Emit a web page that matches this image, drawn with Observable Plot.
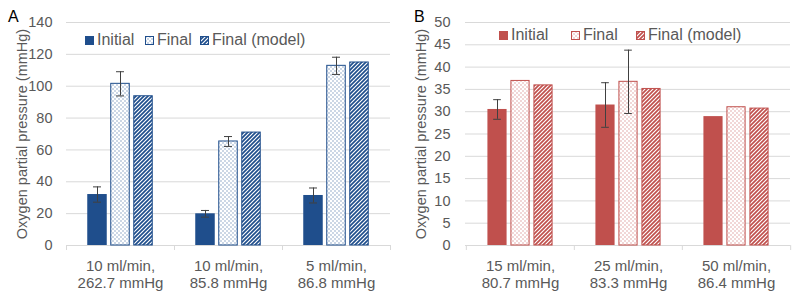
<!DOCTYPE html>
<html><head><meta charset="utf-8">
<script src="https://cdn.jsdelivr.net/npm/d3@7"></script>
<script src="https://cdn.jsdelivr.net/npm/@observablehq/plot@0.6"></script>
<style>
body{margin:0;background:#fff;}
#wrap{position:relative;width:800px;height:298px;font-family:"Liberation Sans",Arial,sans-serif;overflow:hidden;}
.panel{position:absolute;top:0;}
.letter{position:absolute;font-size:16px;font-weight:400;line-height:1;color:#000;}
.lg{position:absolute;display:flex;align-items:center;font-size:16px;line-height:1;color:#595959;white-space:nowrap;}
.lg svg{margin-right:3px;}
</style></head>
<body>
<div id="wrap"></div>
<script>
// ---- Data ----
const seriesNames = ["Initial", "Final", "Final (model)"];
const yLabel = "Oxygen partial pressure (mmHg)";

// Panel A
const catsA = ["10 ml/min,\n262.7 mmHg", "10 ml/min,\n85.8 mmHg", "5 ml/min,\n86.8 mmHg"];
const initialA = [32.0, 19.9, 31.4];
const initialErrA = [4.8, 2.1, 4.7];
const finalA = [101.5, 65.3, 112.8];
const finalErrA = [7.6, 3.1, 5.4];
const modelA = [93.7, 70.9, 114.9];
const yTicksA = [0, 20, 40, 60, 80, 100, 120, 140];

// Panel B
const catsB = ["15 ml/min,\n80.7 mmHg", "25 ml/min,\n83.3 mmHg", "50 ml/min,\n86.4 mmHg"];
const initialB = [30.5, 31.5, 28.9];
const initialErrB = [2.2, 5.0, 0];
const finalB = [36.9, 36.7, 31.0];
const finalErrB = [0, 7.1, 0];
const modelB = [35.9, 35.1, 30.7];
const yTicksB = [0, 5, 10, 15, 20, 25, 30, 35, 40, 45, 50];

const colorA = "#1f4e8c";
const colorB = "#c0504d";

// ---- Patterns ----
function defsSvg() {
  const svg = d3.create("svg").attr("width", 0).attr("height", 0).style("position", "absolute");
  const defs = svg.append("defs");
  for (const [key, col] of [["A", colorA], ["B", colorB]]) {
    const d = defs.append("pattern").attr("id", "dots" + key).attr("patternUnits", "userSpaceOnUse").attr("width", 4).attr("height", 4);
    d.append("rect").attr("width", 4).attr("height", 4).attr("fill", "#fff");
    d.append("rect").attr("x", 0.5).attr("y", 0.5).attr("width", 1).attr("height", 1).attr("fill", col).attr("opacity", 0.9);
    d.append("rect").attr("x", 2.5).attr("y", 2.5).attr("width", 1).attr("height", 1).attr("fill", col).attr("opacity", 0.9);
    const h = defs.append("pattern").attr("id", "hatch" + key).attr("patternUnits", "userSpaceOnUse").attr("width", 4).attr("height", 4);
    h.append("rect").attr("width", 4).attr("height", 4).attr("fill", "#fff");
    h.append("path").attr("d", "M-1,1 l2,-2 M0,4 l4,-4 M3,5 l2,-2").attr("stroke", col).attr("stroke-width", 1.7);
  }
  return svg.node();
}

function panel(cats, initial, initialErr, final, finalErr, model, yTicks, color, key, ml) {
  const W = 400, H = 298, mt = 22, mb = 53, mr = 10;
  const bw = (W - ml - mr) / cats.length;
  const barW = 19.5, gap = 3.5, off = barW + gap;
  const ins = (k, w = barW) => {
    const c = bw / 2 + k * off;
    return {insetLeft: c - w / 2, insetRight: bw - c - w / 2};
  };
  const rows = cats.map((c, i) => ({cat: c, initial: initial[i], ie: initialErr[i], final: final[i], fe: finalErr[i], model: model[i]}));
  const errI = rows.filter(d => d.ie > 0), errF = rows.filter(d => d.fe > 0);
  const ec = "#404040", capW = 8;
  return Plot.plot({
    width: W, height: H, marginLeft: ml, marginRight: mr, marginTop: mt, marginBottom: mb,
    style: {fontFamily: "'Liberation Sans', Arial, sans-serif", color: "#595959", background: "transparent", overflow: "visible"},
    x: {domain: cats, padding: 0, label: null},
    y: {domain: [0, yTicks[yTicks.length - 1]], label: null},
    marks: [
      Plot.gridY(yTicks.slice(1), {stroke: "#d9d9d9", strokeOpacity: 1}),
      Plot.axisY(yTicks, {tickSize: 0, tickPadding: ml === 66 ? 14 : 15, fontSize: 14.5, label: yLabel, labelAnchor: "center", labelArrow: "none", labelOffset: 50, fill: "#595959"}),
      Plot.axisX({tickSize: 0, tickPadding: 13, fontSize: 15, lineHeight: 1.15, fill: "#595959", label: null}),
      Plot.ruleY([0], {stroke: "#d9d9d9"}),
      Plot.ruleX(cats, {x: d => d, dx: -bw / 2, y1: 0, y2: 0, insetBottom: -5, stroke: "#d9d9d9"}),
      Plot.ruleX(cats.slice(-1), {x: d => d, dx: bw / 2, y1: 0, y2: 0, insetBottom: -5, stroke: "#d9d9d9"}),
      Plot.barY(rows, {x: "cat", y: "initial", fill: color, ...ins(-1)}),
      Plot.barY(rows, {x: "cat", y: "final", fill: `url(#dots${key})`, stroke: color, strokeWidth: 1, ...ins(0, barW - 1)}),
      Plot.barY(rows, {x: "cat", y: "model", fill: `url(#hatch${key})`, stroke: color, strokeWidth: 1, ...ins(1, barW - 1)}),
      Plot.ruleX(errI, {x: "cat", y1: d => d.initial - d.ie, y2: d => d.initial + d.ie, dx: -off, stroke: ec}),
      Plot.tickY(errI, {x: "cat", y: d => d.initial + d.ie, stroke: ec, ...ins(-1, capW)}),
      Plot.tickY(errI, {x: "cat", y: d => d.initial - d.ie, stroke: ec, ...ins(-1, capW)}),
      Plot.ruleX(errF, {x: "cat", y1: d => d.final - d.fe, y2: d => d.final + d.fe, stroke: ec}),
      Plot.tickY(errF, {x: "cat", y: d => d.final + d.fe, stroke: ec, ...ins(0, capW)}),
      Plot.tickY(errF, {x: "cat", y: d => d.final - d.fe, stroke: ec, ...ins(0, capW)})
    ]
  });
}

function legend(key, color, xs, yc) {
  const frag = [];
  seriesNames.forEach((name, i) => {
    const div = document.createElement("div");
    div.className = "lg";
    div.style.left = xs[i] + "px";
    div.style.top = (yc - 8) + "px";
    div.style.height = "16px";
    const fill = i === 0 ? color : `url(#${i === 1 ? "dots" : "hatch"}${key})`;
    const sw = d3.create("svg").attr("width", 9).attr("height", 9);
    sw.append("rect").attr("x", 0.5).attr("y", 0.5).attr("width", 8).attr("height", 8)
      .attr("fill", fill).attr("stroke", color).attr("stroke-width", 1);
    div.appendChild(sw.node());
    const t = document.createElement("span");
    t.textContent = name;
    div.appendChild(t);
    frag.push(div);
  });
  return frag;
}

const wrap = document.getElementById("wrap");
wrap.appendChild(defsSvg());

const pA = panel(catsA, initialA, initialErrA, finalA, finalErrA, modelA, yTicksA, colorA, "A", 66);
pA.classList.add("panel"); pA.style.left = "0px";
wrap.appendChild(pA);
const pB = panel(catsB, initialB, initialErrB, finalB, finalErrB, modelB, yTicksB, colorB, "B", 65);
pB.classList.add("panel"); pB.style.left = "400px";
wrap.appendChild(pB);

for (const el of legend("A", colorA, [85, 145, 200], 40)) wrap.appendChild(el);
for (const el of legend("B", colorB, [499, 571, 636], 35)) wrap.appendChild(el);

const la = document.createElement("div"); la.className = "letter"; la.textContent = "A"; la.style.left = "8px"; la.style.top = "9px"; wrap.appendChild(la);
const lb = document.createElement("div"); lb.className = "letter"; lb.textContent = "B"; lb.style.left = "414px"; lb.style.top = "9px"; wrap.appendChild(lb);
</script>
</body></html>
